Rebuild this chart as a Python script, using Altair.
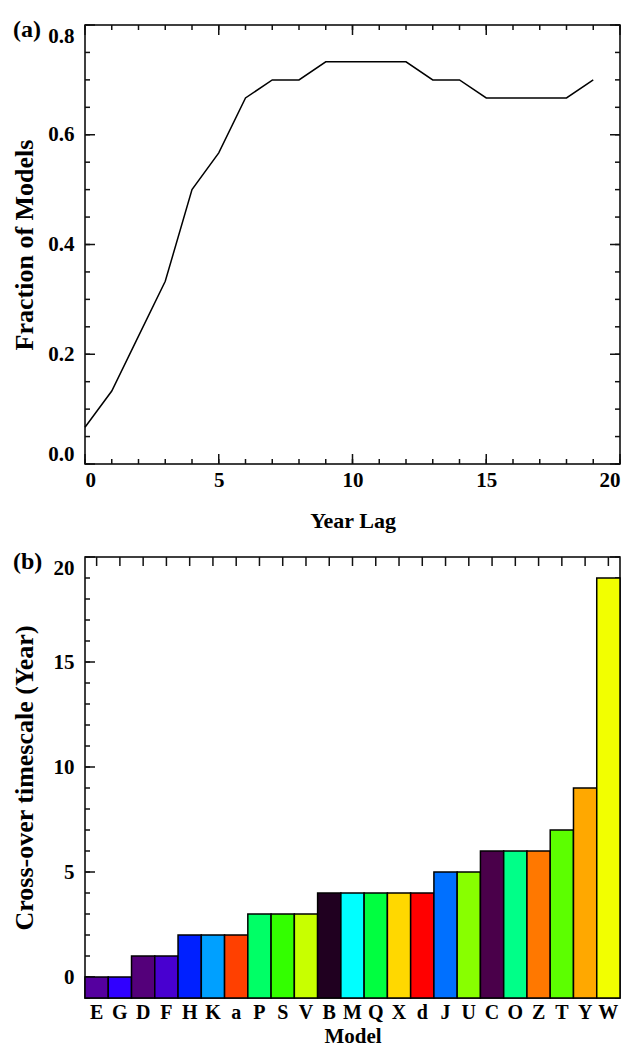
import altair as alt
import pandas as pd

# ---- data: panel (a) ----
lags = list(range(20))
fractions = [0.067, 0.133, 0.233, 0.333, 0.5, 0.567, 0.667, 0.7, 0.7, 0.733,
             0.733, 0.733, 0.733, 0.7, 0.7, 0.667, 0.667, 0.667, 0.667, 0.7]

# ---- data: panel (b) ----
models = ["E", "G", "D", "F", "H", "K", "a", "P", "S", "V", "B", "M", "Q", "X",
          "d", "J", "U", "C", "O", "Z", "T", "Y", "W"]
crossover = [0, 0, 1, 1, 2, 2, 2, 3, 3, 3, 4, 4, 4, 4, 4, 5, 5, 6, 6, 6, 7, 9, 19]
bar_colors = ["#55009f", "#3000ff", "#54007a", "#4800d0", "#0020ff", "#00a0ff",
              "#ff4000", "#00ff66", "#33ff00", "#c8ff00", "#200020", "#00ffff",
              "#00ff40", "#ffd800", "#ff0000", "#0070ff", "#88ff00", "#4a004a",
              "#00ff88", "#ff7800", "#5cff00", "#ffa800", "#f2ff00"]

# ---- tick values ----
x_major_a = [0, 5, 10, 15, 20]
x_minor_a = list(range(0, 21))
y_major_a = [0.0, 0.2, 0.4, 0.6, 0.8]
y_minor_a = [round(i * 0.05, 2) for i in range(17)]
y_major_b = [0, 5, 10, 15, 20]
y_minor_b = list(range(-1, 21))

FONT = "Liberation Serif"
W = 535
HA, HB = 439, 441
MAJ, MIN = 10, 5
TICK_W = 1.5


def rule(d):
    return alt.Chart(d).mark_rule(color="#111111", strokeWidth=TICK_W)


def yticks(values, scale, length, width):
    d = pd.DataFrame({"v": values})
    y = alt.Y("v:Q", scale=scale, axis=None)
    return [rule(d).encode(y=y, x=alt.value(0), x2=alt.value(length)),
            rule(d).encode(y=y, x=alt.value(width), x2=alt.value(width - length))]


def xticks(values, ftype, scale, length, height, bottom=True):
    d = pd.DataFrame({"v": values})
    kw = {"sort": values} if ftype == "N" else {}
    x = alt.X(f"v:{ftype}", scale=scale, axis=None, **kw)
    out = [rule(d).encode(x=x, y=alt.value(0), y2=alt.value(length))]
    if bottom:
        out.append(rule(d).encode(x=x, y=alt.value(height),
                                  y2=alt.value(height - length)))
    return out


# ================= panel (a) =================
df_a = pd.DataFrame({"lag": lags, "frac": fractions})
xs_a = alt.Scale(domain=[0, 20], nice=False, zero=False)
ys_a = alt.Scale(domain=[0, 0.8], nice=False)

line = alt.Chart(df_a).mark_line(color="black", strokeWidth=1.5).encode(
    x=alt.X("lag:Q", scale=xs_a,
            axis=alt.Axis(orient="bottom", values=x_major_a, ticks=False,
                          domain=False, grid=False, title="Year Lag",
                          labelPadding=5, titlePadding=20, format="d",
                          titleFontSize=22)),
    y=alt.Y("frac:Q", scale=ys_a,
            axis=alt.Axis(orient="left", values=y_major_a, ticks=False,
                          domain=False, grid=False, title="Fraction of Models",
                          format=".1f", labelFlush=True, labelPadding=11,
                          titlePadding=10, titleFontSize=26)),
)
lab_a = alt.Chart(pd.DataFrame({"t": ["(a)"]})).mark_text(
    align="left", baseline="alphabetic", fontSize=24, fontWeight="bold",
    font=FONT, color="black").encode(
    x=alt.value(-72), y=alt.value(12), text="t:N")

layers_a = (yticks(y_major_a, ys_a, MAJ, W) + yticks(y_minor_a, ys_a, MIN, W)
            + xticks(x_major_a, "Q", xs_a, MAJ, HA)
            + xticks(x_minor_a, "Q", xs_a, MIN, HA) + [line, lab_a])
top = alt.layer(*layers_a).resolve_axis(
    x="independent", y="independent").properties(width=W, height=HA)

# ================= panel (b) =================
df_b = pd.DataFrame({"model": models, "val": crossover})
xs_b = alt.Scale(domain=models, paddingInner=0, paddingOuter=0)
ys_b = alt.Scale(domain=[-1, 20], nice=False, zero=False)

bars = alt.Chart(df_b).mark_bar(stroke="black", strokeWidth=1.5).encode(
    x=alt.X("model:N", sort=models, scale=xs_b,
            axis=alt.Axis(orient="bottom", ticks=False, domain=False, grid=False,
                          labelAngle=0, labelPadding=4, labelFontSize=20,
                          title="Model", titlePadding=3, titleFontSize=21)),
    y=alt.Y("val:Q", scale=ys_b,
            axis=alt.Axis(orient="left", values=y_major_b, ticks=False,
                          domain=False, grid=False,
                          title="Cross-over timescale (Year)",
                          labelFlush=True, labelPadding=11, titlePadding=16,
                          titleFontSize=26)),
    y2=alt.datum(-1),
    color=alt.Color("model:N", sort=models,
                    scale=alt.Scale(domain=models, range=bar_colors), legend=None),
)
lab_b = alt.Chart(pd.DataFrame({"t": ["(b)"]})).mark_text(
    align="left", baseline="alphabetic", fontSize=24, fontWeight="bold",
    font=FONT, color="black").encode(
    x=alt.value(-72), y=alt.value(12), text="t:N")

layers_b = (yticks(y_major_b, ys_b, MAJ, W) + yticks(y_minor_b, ys_b, MIN, W)
            + xticks(models, "N", xs_b, 9, HB, bottom=False) + [bars, lab_b])
bottom = alt.layer(*layers_b).resolve_axis(
    x="independent", y="independent").properties(width=W, height=HB)

chart = alt.vconcat(top, bottom, spacing=17).properties(
    padding={"left": 2, "top": 9, "right": 0, "bottom": 0}
).configure(font=FONT).configure_axis(
    labelFont=FONT, titleFont=FONT, labelFontSize=21, titleFontSize=22,
    labelFontWeight="bold", titleFontWeight="bold", labelColor="black",
    titleColor="black",
).configure_view(stroke="black", strokeWidth=1.5)

chart.save("out.html", embed_options={"renderer": "svg", "actions": False})
